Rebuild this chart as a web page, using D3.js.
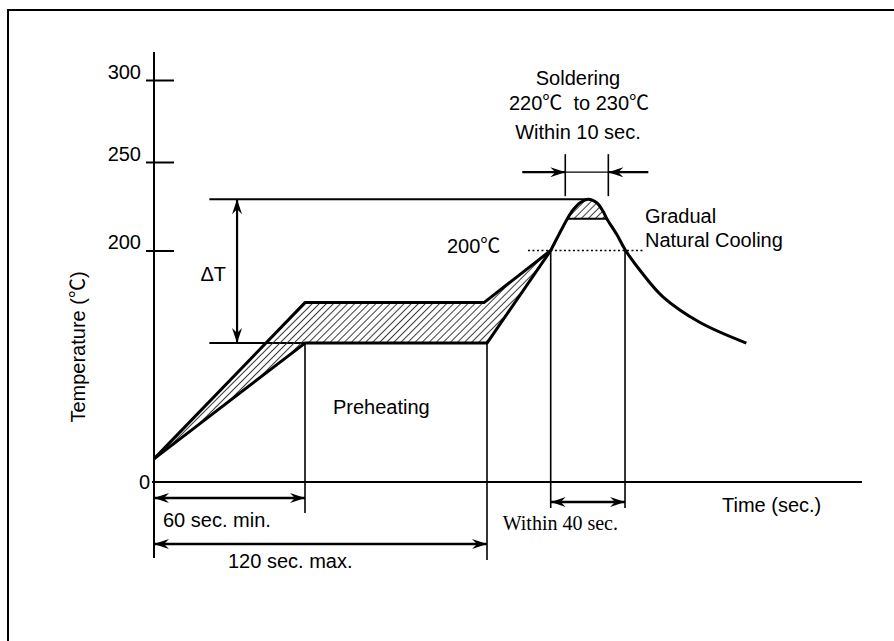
<!DOCTYPE html>
<html>
<head>
<meta charset="utf-8">
<script src="https://cdn.jsdelivr.net/npm/d3@7"></script>
<style>
  body { margin: 0; background: #fff; }
  text { font-family: "Liberation Sans", Arial, "Noto Sans CJK JP", sans-serif; font-size: 20px; fill: #000; }
  .serif { font-family: "Liberation Serif", "Times New Roman", serif; }
</style>
</head>
<body>
<div id="chart"></div>
<script>
// schematic reflow profile: time (sec.) vs temperature (degC)
var yTicks = [0, 200, 250, 300];
var upperRamp = [[0, 20], [60, 155], [119, 155], [141, 200]];
var lowerRamp = [[0, 20], [60, 120], [120, 120], [141, 200]];
var peakCurve = [[141, 200], [143.7, 209], [146.5, 218], [148.4, 223], [150.7, 227], [153.4, 229],
  [156.2, 227], [158.3, 222], [159.5, 218], [162.8, 209], [165.7, 200], [171, 181],
  [178, 160], [190.1, 138], [205.5, 120]];
var solderLow = 218;
var peakTemp = 229;
var preheatLow = 120;
var solderCap = [146.5, 159.5];
var solderMarks = [145.8, 160];
var windowGuides = [141, 165.5];
var dottedSpan = [133.5, 171.5];
var deltaT = { start: 22, arrow: 33 };

var svgWidth = 894, svgHeight = 641;
var svg = d3.select("#chart").append("svg")
  .attr("width", svgWidth)
  .attr("height", svgHeight);

// schematic axes are not linear, so use piecewise scales
var x = d3.scaleLinear().domain([0, 60, 120]).range([154, 305, 487]);
var y = d3.scaleLinear().domain([0, 200, 250, 300]).range([482, 250.5, 162, 80]);
var y0 = y(0);

// defs: hatch + arrowhead
var defs = svg.append("defs");
defs.append("pattern")
  .attr("id", "hatch")
  .attr("patternUnits", "userSpaceOnUse")
  .attr("width", 5).attr("height", 5)
  .attr("patternTransform", "rotate(45)")
  .append("line")
  .attr("x1", 0).attr("y1", 0).attr("x2", 0).attr("y2", 5)
  .attr("stroke", "#333").attr("stroke-width", 1.9);
defs.append("marker")
  .attr("id", "arrow")
  .attr("viewBox", "-16 -6 16 12")
  .attr("markerUnits", "userSpaceOnUse")
  .attr("markerWidth", 16).attr("markerHeight", 12)
  .attr("refX", 0).attr("refY", 0)
  .attr("orient", "auto-start-reverse")
  .append("path")
  .attr("d", "M0,0 L-15,-5 L-10,0 L-15,5 Z")
  .attr("fill", "#000");
// only the cap above the 220 line is hatched
defs.append("clipPath").attr("id", "capClip")
  .append("rect")
  .attr("x", x(solderCap[0]) - 4).attr("y", 0)
  .attr("width", x(solderCap[1]) - x(solderCap[0]) + 8).attr("height", y(solderLow));

// outer frame
svg.append("rect")
  .attr("x", 8).attr("y", 10)
  .attr("width", 1000).attr("height", 1000)
  .attr("fill", "none").attr("stroke", "#000").attr("stroke-width", 2);

function hline(xa, xb, yy, w) {
  return svg.append("line").attr("x1", xa).attr("x2", xb).attr("y1", yy).attr("y2", yy)
    .attr("stroke", "#000").attr("stroke-width", w || 2);
}
function vline(xx, ya, yb, w) {
  return svg.append("line").attr("x1", xx).attr("x2", xx).attr("y1", ya).attr("y2", yb)
    .attr("stroke", "#000").attr("stroke-width", w || 2);
}

// y axis
var yAxis = svg.append("g")
  .attr("transform", `translate(${x(0)},0)`)
  .call(d3.axisLeft(y).tickValues(yTicks).tickSize(0).tickPadding(13));
yAxis.select(".domain").remove();
yAxis.selectAll(".tick line")
  .attr("x1", d => d === 0 ? 0 : -8)
  .attr("x2", d => d === 0 ? 0 : 20)
  .attr("stroke", "#000").attr("stroke-width", 2);
yAxis.selectAll(".tick text")
  .attr("font-family", null)
  .attr("x", d => d === 0 ? -4 : -13)
  .attr("dy", d => d === 0 ? "0.32em" : "-0.1em");
vline(x(0), y(300) - 28, y0 + 76, 2);

// x axis
hline(x(0) - 2, 862, y0, 2);

// guide lines
vline(x(60), y(preheatLow), y0 + 31, 1.6);
vline(x(120), y(preheatLow), y0 + 78, 1.6);
windowGuides.forEach(t => vline(x(t), y(200), y0 + 26, 1.6));

// delta T lines
hline(x(deltaT.start), x(153.4), y(peakTemp), 2);
hline(x(deltaT.start), x(60), y(preheatLow), 2);
vline(x(deltaT.arrow), y(peakTemp), y(preheatLow), 2.2)
  .attr("marker-start", "url(#arrow)").attr("marker-end", "url(#arrow)");

// dotted 200 line
hline(x(dottedSpan[0]), x(dottedSpan[1]), y(200), 1.5).attr("stroke-dasharray", "2,2.5");

// hatched band between ramps
var line = d3.line().x(d => x(d[0])).y(d => y(d[1]));
svg.append("path")
  .attr("d", line(upperRamp.concat(lowerRamp.slice().reverse())) + "Z")
  .attr("fill", "url(#hatch)").attr("stroke", "none");
[upperRamp, lowerRamp].forEach(function(r) {
  svg.append("path").attr("d", line(r))
    .attr("fill", "none").attr("stroke", "#000").attr("stroke-width", 3)
    .attr("stroke-linejoin", "round");
});

// peak cap
var area = d3.area().curve(d3.curveCatmullRom.alpha(0.5))
  .x(d => x(d[0])).y0(y(solderLow)).y1(d => y(d[1]));
svg.append("path")
  .attr("d", area(peakCurve))
  .attr("clip-path", "url(#capClip)")
  .attr("fill", "url(#hatch)");
hline(x(solderCap[0]), x(solderCap[1]), y(solderLow), 2);

var curveLine = d3.line().curve(d3.curveCatmullRom.alpha(0.5)).x(d => x(d[0])).y(d => y(d[1]));
svg.append("path").attr("d", curveLine(peakCurve))
  .attr("fill", "none").attr("stroke", "#000").attr("stroke-width", 3);

// soldering window markers
var markY = y(peakTemp) - 27;
solderMarks.forEach(t => vline(x(t), y(peakTemp) - 45, y(peakTemp) - 3, 1.6));
hline(x(solderMarks[0]), x(solderMarks[1]), markY, 1.2);
hline(x(solderMarks[0]) - 43, x(solderMarks[0]), markY, 2.2).attr("marker-end", "url(#arrow)");
hline(x(solderMarks[1]) + 40, x(solderMarks[1]), markY, 2.2).attr("marker-end", "url(#arrow)");

// dimension arrows under the axis
hline(x(0), x(60), y0 + 16, 2.4).attr("marker-start", "url(#arrow)").attr("marker-end", "url(#arrow)");
hline(x(0), x(120), y0 + 62, 2.4).attr("marker-start", "url(#arrow)").attr("marker-end", "url(#arrow)");
hline(x(windowGuides[0]), x(windowGuides[1]), y0 + 20, 2.4)
  .attr("marker-start", "url(#arrow)").attr("marker-end", "url(#arrow)");

// texts
function label(txt, xx, yy, anchor) {
  return svg.append("text").attr("x", xx).attr("y", yy)
    .attr("text-anchor", anchor || "start").text(txt);
}
label("60 sec. min.", x(0) + 9, y0 + 45);
label("120 sec. max.", x(0) + 74, y0 + 86);
label("Within 40 sec.", x(windowGuides[0]) - 48, y0 + 48).classed("serif", true);
label("Time (sec.)", 722, y0 + 30);
label("Preheating", 333, 414);
label("200℃", 447, y(200) + 2);
label("Gradual", 645, 223);
label("Natural Cooling", 645, 247);
label("Soldering", 578, 85, "middle");
label("220℃  to 230℃", 579, 110, "middle").attr("xml:space", "preserve").style("white-space", "pre");
label("Within 10 sec.", 578, 139, "middle");
label("ΔT", x(deltaT.arrow) - 11, 281, "end");
svg.append("text")
  .attr("transform", "translate(85,347) rotate(-90)")
  .attr("text-anchor", "middle")
  .text("Temperature (℃)");
</script>
</body>
</html>
